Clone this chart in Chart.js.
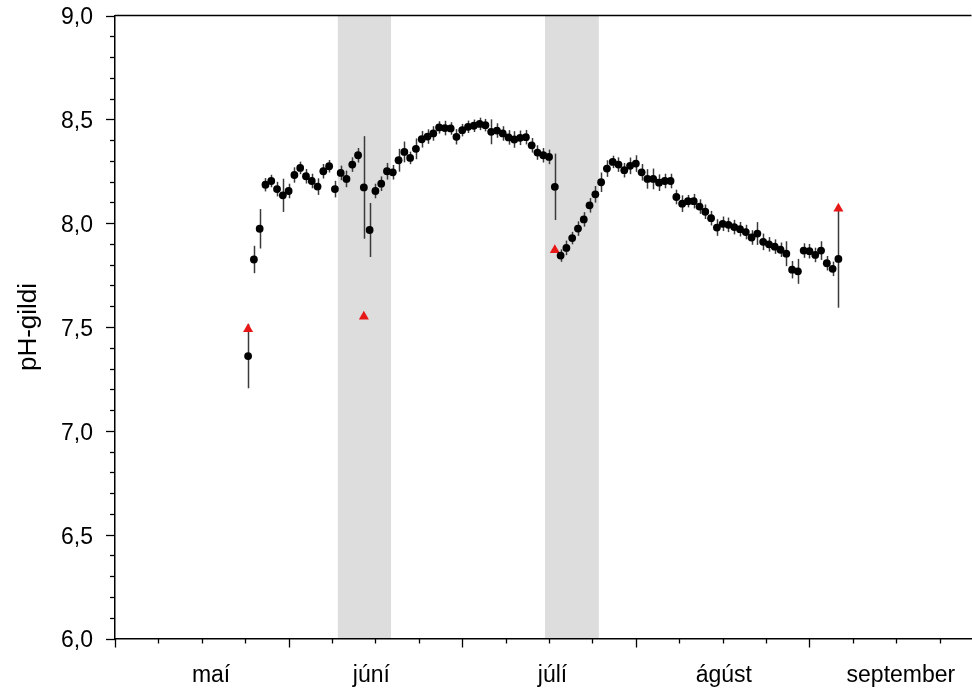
<!DOCTYPE html>
<html>
<head>
<meta charset="utf-8">
<script src="https://cdn.jsdelivr.net/npm/chart.js@4"></script>
<style>
  html, body { margin: 0; padding: 0; background: #fff; }
  #wrap { width: 972px; height: 690px; position: relative; }
</style>
</head>
<body>
<div id="wrap"><canvas id="chart"></canvas></div>
<script>
// daily pH readings, first reading on day 23 of the axis
const firstDay = 23;
const phMean = [
  7.36, 7.825, 7.973, 8.185, 8.203, 8.164, 8.134, 8.155, 8.232, 8.266,
  8.226, 8.203, 8.176, 8.250, 8.274, 8.164, 8.242, 8.213, 8.282, 8.327,
  8.172, 7.967, 8.155, 8.19, 8.25, 8.245, 8.303, 8.343, 8.314, 8.358,
  8.404, 8.417, 8.432, 8.461, 8.458, 8.456, 8.416, 8.448, 8.464, 8.469,
  8.478, 8.472, 8.440, 8.446, 8.432, 8.413, 8.403, 8.411, 8.414, 8.375,
  8.340, 8.327, 8.319, 8.175, 7.844, 7.881, 7.928, 7.974, 8.018, 8.086,
  8.139, 8.197, 8.263, 8.295, 8.282, 8.255, 8.276, 8.287, 8.245, 8.213,
  8.213, 8.195, 8.203, 8.203, 8.126, 8.094, 8.106, 8.106, 8.080, 8.055,
  8.024, 7.979, 7.997, 7.992, 7.981, 7.971, 7.957, 7.931, 7.950, 7.910,
  7.898, 7.887, 7.872, 7.853, 7.776, 7.768, 7.868, 7.865, 7.847, 7.868,
  7.807, 7.780, 7.828
];
const phErr = [
  0.155, 0.066, 0.095, 0.032, 0.03, 0.035, 0.08, 0.035, 0.037, 0.03,
  0.035, 0.035, 0.04, 0.035, 0.03, 0.04, 0.035, 0.04, 0.035, 0.035,
  0.247, 0.13, 0.035, 0.035, 0.04, 0.035, 0.055, 0.05, 0.03, 0.05,
  0.04, 0.035, 0.035, 0.03, 0.035, 0.03, 0.037, 0.03, 0.03, 0.03,
  0.03, 0.03, 0.06, 0.035, 0.035, 0.035, 0.04, 0.035, 0.035, 0.035,
  0.035, 0.035, 0.035, 0.16, 0.03, 0.035, 0.03, 0.035, 0.035, 0.035,
  0.04, 0.047, 0.04, 0.03, 0.035, 0.035, 0.04, 0.04, 0.04, 0.047,
  0.05, 0.04, 0.035, 0.035, 0.035, 0.04, 0.03, 0.035, 0.035, 0.035,
  0.035, 0.04, 0.035, 0.035, 0.035, 0.035, 0.035, 0.035, 0.055, 0.04,
  0.035, 0.035, 0.035, 0.06, 0.042, 0.06, 0.035, 0.035, 0.035, 0.045,
  0.035, 0.035, 0.235
];
// single reference measurements (red triangles)
const refDays = [23, 43, 76, 125];
const refValues = [7.49, 7.55, 7.87, 8.07];
// shaded periods (start day, end day)
const shadedPeriods = [[38.5, 47.7], [74.3, 83.6]];
// month labels and where they sit on the day axis
const monthLabels = ['maí', 'júní', 'júlí', 'ágúst', 'september'];
const monthDays = [16.6, 44.3, 75.6, 105.2, 135.8];

const FONT = '"Liberation Sans", Arial, sans-serif';

const dailyPoints = phMean.map((v, i) => ({ x: firstDay + i, y: v, e: phErr[i] }));
const refPoints = refDays.map((d, i) => ({ x: d, y: refValues[i] }));

const decor = {
  id: 'decor',
  beforeDraw(chart) {
    const { ctx, chartArea, scales: { x } } = chart;
    ctx.save();
    ctx.fillStyle = '#dddddd';
    shadedPeriods.forEach(([a, b]) => {
      const x1 = x.getPixelForValue(a), x2 = x.getPixelForValue(b);
      ctx.fillRect(x1, chartArea.top, x2 - x1, chartArea.bottom - chartArea.top);
    });
    ctx.restore();
  },
  beforeDatasetsDraw(chart) {
    const { ctx, scales: { x, y } } = chart;
    ctx.save();
    ctx.strokeStyle = '#3a3a3a';
    ctx.lineWidth = 1.5;
    dailyPoints.forEach(p => {
      const px = Math.round(x.getPixelForValue(p.x)) + 0.5;
      ctx.beginPath();
      ctx.moveTo(px, y.getPixelForValue(p.y - p.e));
      ctx.lineTo(px, y.getPixelForValue(p.y + p.e));
      ctx.stroke();
    });
    ctx.restore();
  },
  afterDraw(chart) {
    const { ctx, chartArea, scales: { x, y } } = chart;
    ctx.save();
    ctx.strokeStyle = '#000';
    ctx.lineWidth = 1.5;
    // top frame line
    ctx.beginPath();
    ctx.moveTo(chartArea.left, chartArea.top);
    ctx.lineTo(chartArea.right, chartArea.top);
    ctx.stroke();
    ctx.lineWidth = 1.3;
    // x ticks: major every 30 days, minor every 7.5
    for (let d = 0; d <= x.max + 0.01; d += 7.5) {
      const px = Math.round(x.getPixelForValue(d)) + 0.5;
      const len = d % 30 === 0 ? 9 : 5;
      ctx.beginPath();
      ctx.moveTo(px, chartArea.bottom);
      ctx.lineTo(px, chartArea.bottom + len);
      ctx.stroke();
    }
    // y ticks: major every 0.5, minor every 0.1
    for (let k = 0; k <= 30; k++) {
      const v = 6 + k * 0.1;
      const py = Math.round(y.getPixelForValue(v)) + 0.5;
      const len = k % 5 === 0 ? 9 : 5;
      ctx.beginPath();
      ctx.moveTo(chartArea.left, py);
      ctx.lineTo(chartArea.left - len, py);
      ctx.stroke();
    }
    ctx.restore();
  }
};

new Chart(document.getElementById('chart'), {
  type: 'scatter',
  data: {
    datasets: [
      {
        label: 'pH',
        data: dailyPoints,
        backgroundColor: '#000',
        borderColor: '#000',
        pointRadius: 3.9,
        borderWidth: 0,
        showLine: false
      },
      {
        label: 'stakar mælingar',
        data: refPoints,
        pointStyle: 'triangle',
        backgroundColor: '#e81717',
        borderColor: '#e81717',
        pointRadius: 5.8,
        borderWidth: 0,
        showLine: false
      }
    ]
  },
  options: {
    responsive: true,
    maintainAspectRatio: false,
    animation: false,
    layout: { autoPadding: false, padding: { top: 15.5, right: 0.5, left: 0, bottom: 0 } },
    plugins: {
      legend: { display: false },
      tooltip: { enabled: false }
    },
    scales: {
      x: {
        type: 'linear',
        min: 0,
        max: 148,
        grid: { display: false, drawTicks: true, tickLength: 23 },
        border: { display: true, color: '#000', width: 1.5 },
        afterBuildTicks: s => { s.ticks = monthDays.map(v => ({ value: v })); },
        afterFit: s => {
          s.height = 690 - 638.5;
          s.paddingLeft = 0;
          s.paddingRight = 0;
        },
        ticks: {
          autoSkip: false,
          maxRotation: 0,
          padding: 0,
          color: '#000',
          font: { family: FONT, size: 23 },
          callback: (v, i) => monthLabels[i]
        }
      },
      y: {
        min: 6,
        max: 9,
        grid: { display: false, drawTicks: true, tickLength: 22 },
        border: { display: true, color: '#000', width: 1.5 },
        afterFit: s => { s.width = 115; },
        ticks: {
          stepSize: 0.5,
          padding: 0,
          labelOffset: 2.5,
          color: '#000',
          font: { family: FONT, size: 23 },
          callback: v => v.toFixed(1).replace('.', ',')
        },
        title: {
          display: true,
          text: 'pH-gildi',
          color: '#000',
          font: { family: FONT, size: 26 },
          padding: { top: 13, bottom: 0 }
        }
      }
    }
  },
  plugins: [decor]
});
</script>
</body>
</html>
